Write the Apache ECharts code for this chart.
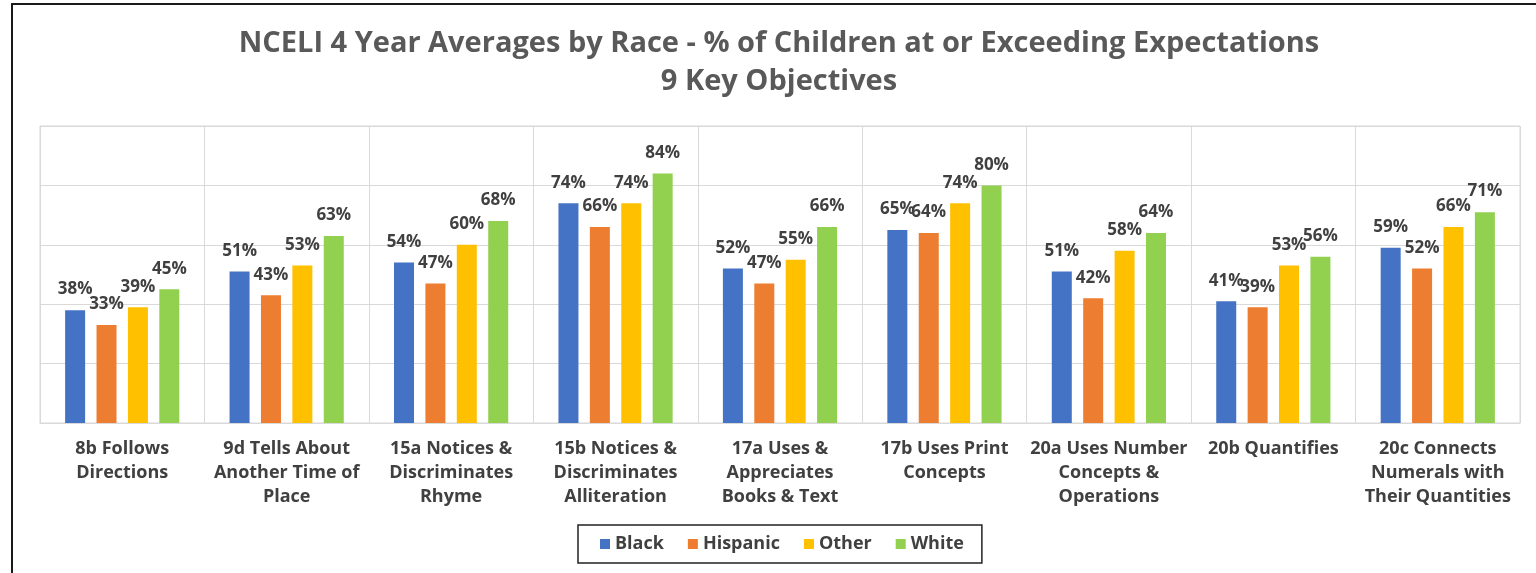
<!DOCTYPE html>
<html>
<head>
<meta charset="utf-8">
<script src="https://cdn.jsdelivr.net/npm/echarts@6/dist/echarts.min.js"></script>
<style>
  html, body { margin: 0; padding: 0; background: #fff; }
  #frame { position: absolute; left: 11px; top: 3px; width: 1600px; height: 700px; border: 2px solid #1a1a1a; }
  #myChart { position: absolute; left: 0; top: 0; width: 1536px; height: 573px; }
</style>
</head>
<body>
<div id="frame"></div>
<div id="myChart"></div>
<script>
// categories (line breaks as shown under the axis)
const categories = [
  '8b Follows\nDirections',
  '9d Tells About\nAnother Time of\nPlace',
  '15a Notices &\nDiscriminates\nRhyme',
  '15b Notices &\nDiscriminates\nAlliteration',
  '17a Uses &\nAppreciates\nBooks & Text',
  '17b Uses Print\nConcepts',
  '20a Uses Number\nConcepts &\nOperations',
  '20b Quantifies',
  '20c Connects\nNumerals with\nTheir Quantities'
];
const black    = [38, 51, 54, 74, 52, 65, 51, 41, 59];
const hispanic = [33, 43, 47, 66, 47, 64, 42, 39, 52];
const other    = [39, 53, 60, 74, 55, 74, 58, 53, 66];
const white    = [45, 63, 68, 84, 66, 80, 64, 56, 71];

const font = 'Open Sans';
const textColor = '#404040';

function barSeries(name, data, color) {
  return {
    name: name,
    type: 'bar',
    data: data,
    barWidth: 20,
    barGap: '57%',
    itemStyle: { color: color },
    label: {
      show: true,
      position: 'top',
      distance: 12,
      formatter: '{c}%',
      color: textColor,
      fontFamily: font,
      fontWeight: 'bold',
      fontSize: 17
    }
  };
}

let myChart = echarts.init(document.getElementById('myChart'));
let option = {
  animation: false,
  title: {
    text: 'NCELI 4 Year Averages by Race - % of Children at or Exceeding Expectations\n9 Key Objectives',
    left: 779,
    textAlign: 'center',
    top: 25,
    padding: 0,
    textStyle: {
      color: '#595959',
      fontFamily: font,
      fontWeight: 'bold',
      fontSize: 29,
      lineHeight: 38
    }
  },
  legend: {
    left: 578,
    top: 525,
    padding: [10, 18, 10, 22],
    itemGap: 24,
    itemWidth: 10,
    itemHeight: 10,
    icon: 'rect',
    borderColor: '#222',
    borderWidth: 1.5,
    textStyle: {
      color: textColor,
      fontFamily: font,
      fontWeight: 'bold',
      fontSize: 18
    }
  },
  grid: {
    left: 40,
    right: 16,
    top: 126,
    bottom: 150,
    show: true,
    borderColor: '#d9d9d9',
    borderWidth: 1
  },
  xAxis: {
    type: 'category',
    data: categories,
    axisTick: { show: false },
    axisLine: { lineStyle: { color: '#d9d9d9' } },
    splitLine: { show: true, lineStyle: { color: '#d9d9d9', width: 1 } },
    axisLabel: {
      interval: 0,
      margin: 14,
      color: textColor,
      fontFamily: font,
      fontWeight: 'bold',
      fontSize: 18,
      lineHeight: 24
    }
  },
  yAxis: {
    type: 'value',
    min: 0,
    max: 100,
    interval: 20,
    axisLabel: { show: false },
    axisLine: { show: false },
    axisTick: { show: false },
    splitLine: { lineStyle: { color: '#d9d9d9', width: 1 } }
  },
  series: [
    barSeries('Black', black, '#4472C4'),
    barSeries('Hispanic', hispanic, '#ED7D31'),
    barSeries('Other', other, '#FFC000'),
    barSeries('White', white, '#92D050')
  ]
};
myChart.setOption(option, true);
</script>
</body>
</html>
